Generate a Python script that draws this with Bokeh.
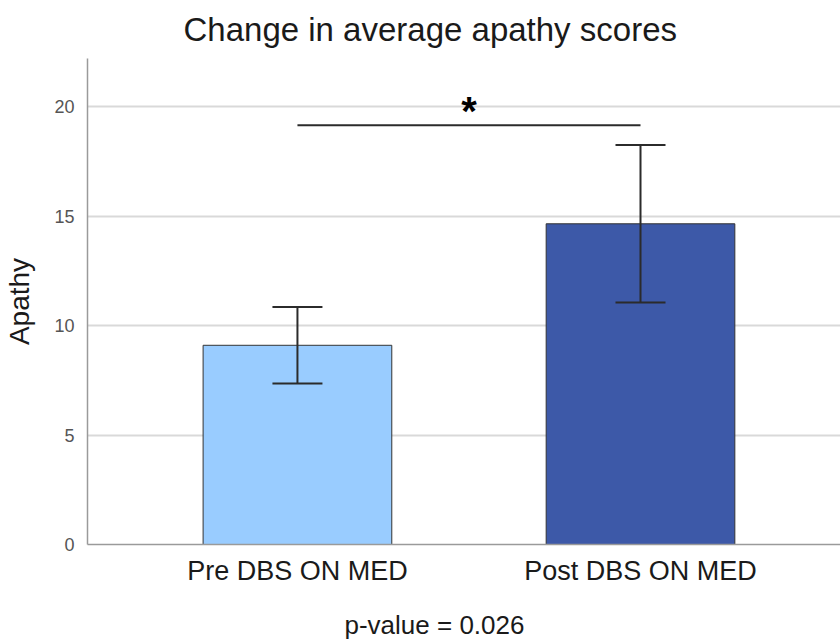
from bokeh.plotting import figure
from bokeh.models import ColumnDataSource, Range1d, Whisker, TeeHead, Label, Title
from bokeh.embed import file_html
from bokeh.resources import INLINE

# ---- data ----
groups = ["Pre DBS ON MED", "Post DBS ON MED"]
means = [9.1, 14.65]
ci_low = [7.35, 11.05]
ci_high = [10.85, 18.25]
colors = ["#99CCFF", "#3D59A8"]
y_ticks = [0, 5, 10, 15, 20]
grid_ticks = [5, 10, 15, 20]
sig_pair = [1, 2]
sig_y = 19.15
title_text = "Change in average apathy scores"
p_text = "p-value = 0.026"
y_label = "Apathy"

FONT = "Liberation Sans"
xs = [1, 2]
src = ColumnDataSource(dict(x=xs, top=means, lower=ci_low, upper=ci_high, color=colors))

p = figure(width=840, height=640, output_backend="svg", toolbar_location=None,
           x_range=Range1d(0.388, 2.583), y_range=Range1d(0, 22.2),
           min_border_left=87, min_border_right=0, min_border_top=58,
           min_border_bottom=96)
p.outline_line_color = None
p.background_fill_color = "white"
p.border_fill_color = "white"

# title (above)
p.title.text = title_text
p.title.align = "left"
p.title.offset = 96
p.title.text_font = FONT
p.title.text_font_size = "33px"
p.title.text_font_style = "normal"
p.title.text_color = "#1a1a1a"
p.title.vertical_align = "top"
p.title.standoff = 18

p.vbar(x="x", top="top", bottom=0, width=0.55, fill_color="color",
       line_color="#333333", line_width=1, source=src)

wh = Whisker(source=src, base="x", upper="upper", lower="lower",
             line_color="#2b2b2b", line_width=2, level="overlay",
             upper_head=TeeHead(size=50, line_color="#2b2b2b", line_width=2),
             lower_head=TeeHead(size=50, line_color="#2b2b2b", line_width=2))
p.add_layout(wh)

# significance bracket
p.line(x=sig_pair, y=[sig_y, sig_y], line_color="#2b2b2b", line_width=2)
p.add_layout(Label(x=sum(sig_pair) / 2, y=sig_y, text="*", text_align="center",
                   text_baseline="alphabetic", text_font_size="40px",
                   text_font=FONT, text_font_style="bold", text_color="black",
                   y_offset=14))

# axes
p.xgrid.grid_line_color = None
p.ygrid.ticker = grid_ticks
p.ygrid.grid_line_color = "#d9d9d9"
p.ygrid.grid_line_width = 2

p.yaxis.ticker = y_ticks
p.yaxis.major_tick_line_color = None
p.yaxis.minor_tick_line_color = None
p.yaxis.axis_line_color = "#9a9a9a"
p.yaxis.axis_line_width = 1.5
p.yaxis.major_label_text_font = FONT
p.yaxis.major_label_text_font_size = "18px"
p.yaxis.major_label_text_color = "#555555"
p.yaxis.major_label_standoff = 7
p.yaxis.axis_label = y_label
p.yaxis.axis_label_text_font = FONT
p.yaxis.axis_label_text_font_size = "28px"
p.yaxis.axis_label_text_font_style = "normal"
p.yaxis.axis_label_text_color = "#1a1a1a"
p.yaxis.axis_label_standoff = 16

p.xaxis.ticker = xs
p.xaxis.major_label_overrides = {1: groups[0], 2: groups[1]}
p.xaxis.major_tick_line_color = None
p.xaxis.minor_tick_line_color = None
p.xaxis.axis_line_color = "#9a9a9a"
p.xaxis.axis_line_width = 1.5
p.xaxis.major_label_text_font = FONT
p.xaxis.major_label_text_font_size = "27px"
p.xaxis.major_label_text_color = "#1a1a1a"
p.xaxis.major_label_standoff = 5

# spacer + p-value note (below)
p.add_layout(Title(text=" ", text_font_size="2px", standoff=14), "below")
p.add_layout(Title(text=p_text, align="left", offset=257, text_font=FONT,
                   text_font_size="26px", text_font_style="normal",
                   text_color="#1a1a1a", vertical_align="bottom",
                   standoff=2), "below")

open("out.html", "w").write(file_html(p, INLINE))
